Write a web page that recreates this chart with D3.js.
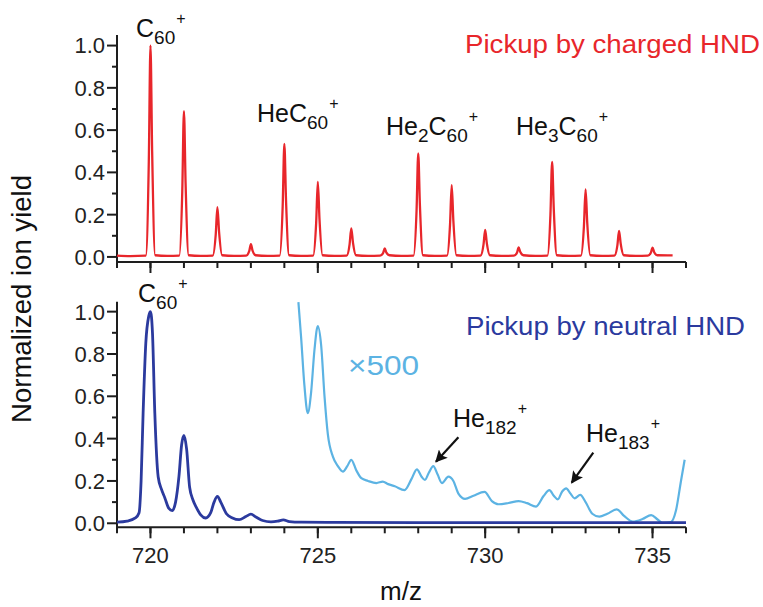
<!DOCTYPE html>
<html>
<head>
<meta charset="utf-8">
<script src="https://cdn.jsdelivr.net/npm/d3@7"></script>
<style>
  html, body { margin: 0; padding: 0; background: #fff; }
  svg { display: block; }
  text { font-family: "Liberation Sans", Arial, Helvetica, sans-serif; }
</style>
</head>
<body>
<script>
// ---------------- DATA ----------------
// m/z axis range and ticks
const mzDomain = [719, 736];
const mzMajorTicks = [720, 725, 730, 735];
const mzMinorTicks = [719, 720, 721, 722, 723, 724, 725, 726, 727, 728, 729, 730, 731, 732, 733, 734, 735, 736];
const yieldMajorTicks = [0.0, 0.2, 0.4, 0.6, 0.8, 1.0];
const yieldMinorTicks = [0.1, 0.3, 0.5, 0.7, 0.9];

// Top panel: pickup by charged HND (m/z, normalized yield)
const chargedSpectrum = [
  [719.0, 0.006], [719.4, 0.004], [719.86, 0.006], [719.95, 0.45], [720.0, 1.0], [720.05, 0.5], [720.14, 0.008],
  [720.5, 0.005], [720.86, 0.006], [720.95, 0.31], [721.0, 0.69], [721.05, 0.345], [721.14, 0.008],
  [721.5, 0.005], [721.86, 0.006], [721.95, 0.106], [722.0, 0.235], [722.05, 0.118], [722.14, 0.008],
  [722.5, 0.005], [722.86, 0.006], [722.95, 0.027], [723.0, 0.06], [723.05, 0.03], [723.14, 0.008],
  [723.5, 0.005], [723.86, 0.006], [723.95, 0.24], [724.0, 0.535], [724.05, 0.268], [724.14, 0.008],
  [724.5, 0.005], [724.86, 0.006], [724.95, 0.16], [725.0, 0.355], [725.05, 0.178], [725.14, 0.008],
  [725.5, 0.005], [725.86, 0.006], [725.95, 0.061], [726.0, 0.135], [726.05, 0.068], [726.14, 0.008],
  [726.5, 0.005], [726.86, 0.006], [726.95, 0.018], [727.0, 0.04], [727.05, 0.02], [727.14, 0.008],
  [727.5, 0.005], [727.86, 0.006], [727.95, 0.22], [728.0, 0.49], [728.05, 0.245], [728.14, 0.008],
  [728.5, 0.005], [728.86, 0.006], [728.95, 0.153], [729.0, 0.34], [729.05, 0.17], [729.14, 0.008],
  [729.5, 0.005], [729.86, 0.006], [729.95, 0.058], [730.0, 0.128], [730.05, 0.064], [730.14, 0.008],
  [730.5, 0.005], [730.86, 0.006], [730.95, 0.02], [731.0, 0.045], [731.05, 0.023], [731.14, 0.008],
  [731.5, 0.005], [731.86, 0.006], [731.95, 0.2], [732.0, 0.45], [732.05, 0.225], [732.14, 0.008],
  [732.5, 0.005], [732.86, 0.006], [732.95, 0.144], [733.0, 0.32], [733.05, 0.16], [733.14, 0.008],
  [733.5, 0.005], [733.86, 0.006], [733.95, 0.055], [734.0, 0.123], [734.05, 0.062], [734.14, 0.008],
  [734.5, 0.005], [734.86, 0.006], [734.95, 0.02], [735.0, 0.044], [735.05, 0.022], [735.14, 0.008],
  [735.6, 0.007]
];

// Bottom panel: pickup by neutral HND (m/z, normalized yield)
const neutralSpectrum = [
  [719.0, 0.005], [719.3, 0.01], [719.55, 0.025], [719.66, 0.05], [719.72, 0.2], [719.78, 0.52],
  [719.86, 0.85], [719.95, 0.98], [720.0, 1.0], [720.06, 0.9], [720.13, 0.52], [720.23, 0.22],
  [720.33, 0.16], [720.43, 0.12], [720.55, 0.07], [720.65, 0.06], [720.75, 0.1], [720.85, 0.22],
  [720.93, 0.37], [721.0, 0.415], [721.08, 0.35], [721.17, 0.17], [721.27, 0.11], [721.37, 0.075],
  [721.5, 0.04], [721.65, 0.025], [721.8, 0.05], [721.9, 0.1], [722.0, 0.127], [722.1, 0.1],
  [722.27, 0.045], [722.45, 0.025], [722.65, 0.017], [722.85, 0.032], [723.0, 0.043], [723.15, 0.03],
  [723.35, 0.013], [723.6, 0.007], [723.8, 0.01], [723.97, 0.016], [724.15, 0.008], [724.5, 0.005],
  [725.5, 0.004], [728.0, 0.003], [736.0, 0.003]
];

// Bottom panel: same spectrum magnified x500
const neutralX500Spectrum = [
  [724.42, 1.045], [724.5, 0.88], [724.6, 0.65], [724.7, 0.52], [724.8, 0.62], [724.9, 0.82],
  [725.0, 0.932], [725.1, 0.84], [725.2, 0.6], [725.3, 0.42], [725.45, 0.315], [725.6, 0.27],
  [725.75, 0.244], [725.88, 0.27], [726.0, 0.3], [726.15, 0.25], [726.3, 0.213], [726.5, 0.2],
  [726.75, 0.19], [726.94, 0.197], [727.1, 0.185], [727.3, 0.175], [727.59, 0.157], [727.8, 0.21],
  [727.96, 0.255], [728.1, 0.22], [728.2, 0.205], [728.32, 0.24], [728.45, 0.27], [728.58, 0.23],
  [728.71, 0.19], [728.9, 0.22], [729.05, 0.2], [729.2, 0.14], [729.4, 0.115], [729.65, 0.13],
  [729.98, 0.148], [730.2, 0.105], [730.4, 0.09], [730.7, 0.096], [731.0, 0.105], [731.25, 0.095],
  [731.52, 0.079], [731.75, 0.13], [731.92, 0.157], [732.05, 0.13], [732.17, 0.113], [732.3, 0.15],
  [732.42, 0.165], [732.55, 0.14], [732.67, 0.118], [732.84, 0.134], [733.0, 0.1], [733.2, 0.045],
  [733.41, 0.031], [733.65, 0.045], [733.93, 0.066], [734.15, 0.035], [734.41, 0.008], [734.7, 0.02],
  [734.96, 0.039], [735.15, 0.018], [735.3, 0.002], [735.55, 0.006], [735.7, 0.06], [735.85, 0.2],
  [735.96, 0.3]
];

// Annotation arrows in data coordinates: [tail, tip]
const arrowsBottom = [
  [[729.2, 0.406], [728.53, 0.291]],
  [[733.23, 0.334], [732.585, 0.192]]
];

// Peak labels: parts of chemical formula (n = normal, sub, sup)
const topLabels = [
  { x: 136, y: 37, parts: [["C", "n"], ["60", "sub"], ["+", "sup"]] },
  { x: 257, y: 122, parts: [["HeC", "n"], ["60", "sub"], ["+", "sup"]] },
  { x: 386, y: 135, parts: [["He", "n"], ["2", "sub"], ["C", "n"], ["60", "sub"], ["+", "sup"]] },
  { x: 516, y: 135, parts: [["He", "n"], ["3", "sub"], ["C", "n"], ["60", "sub"], ["+", "sup"]] }
];
const bottomLabels = [
  { x: 138, y: 302, parts: [["C", "n"], ["60", "sub"], ["+", "sup"]] },
  { x: 453, y: 427, parts: [["He", "n"], ["182", "sub"], ["+", "sup"]] },
  { x: 586, y: 442, parts: [["He", "n"], ["183", "sub"], ["+", "sup"]] }
];

// ---------------- STYLE ----------------
const W = 763, H = 607;
const RED = "#e8262b", NAVY = "#2b3a9e", SKY = "#5cb3e3", AXIS = "#1e1e1e";

const svg = d3.select("body").append("svg").attr("width", W).attr("height", H);

svg.append("defs").append("marker")
  .attr("id", "arrowhead").attr("viewBox", "0 0 10 10")
  .attr("refX", 9).attr("refY", 5)
  .attr("markerWidth", 6).attr("markerHeight", 5.5)
  .attr("markerUnits", "strokeWidth")
  .attr("orient", "auto")
  .append("path").attr("d", "M0,0 L10,5 L0,10 L2,5 Z").attr("fill", "#111");

const x = d3.scaleLinear().domain(mzDomain).range([117, 686]);
const yTop = d3.scaleLinear().domain([-0.024, 1.05]).range([262, 35]);
const yBot = d3.scaleLinear().domain([-0.019, 1.047]).range([527.3, 301.7]);

function drawPanel(yScale, showXLabels) {
  const [y0] = yScale.range();
  const g = svg.append("g");
  // y axis
  const yAxis = g.append("g").attr("transform", `translate(${x.range()[0]},0)`);
  yAxis.append("line").attr("x1", 0).attr("x2", 0)
    .attr("y1", yScale.range()[1]).attr("y2", y0 + 5)
    .attr("stroke", AXIS).attr("stroke-width", 2);
  yAxis.selectAll(".ymaj").data(yieldMajorTicks).join("line")
    .attr("x1", -10).attr("x2", 0)
    .attr("y1", d => yScale(d)).attr("y2", d => yScale(d))
    .attr("stroke", AXIS).attr("stroke-width", 2);
  yAxis.selectAll(".ymin").data(yieldMinorTicks).join("line").attr("class", "ymin")
    .attr("x1", -5).attr("x2", 0)
    .attr("y1", d => yScale(d)).attr("y2", d => yScale(d))
    .attr("stroke", AXIS).attr("stroke-width", 2);
  yAxis.selectAll(".ylab").data(yieldMajorTicks).join("text").attr("class", "ylab")
    .attr("x", -12).attr("y", d => yScale(d)).attr("dy", "0.36em")
    .attr("text-anchor", "end").attr("font-size", 22).attr("fill", "#222")
    .text(d => d.toFixed(1));
  // x axis
  const xAxis = g.append("g").attr("transform", `translate(0,${y0})`);
  xAxis.append("line").attr("x1", x.range()[0]).attr("x2", x.range()[1])
    .attr("y1", 0).attr("y2", 0).attr("stroke", AXIS).attr("stroke-width", 2);
  xAxis.selectAll(".xmin").data(mzMinorTicks).join("line").attr("class", "xmin")
    .attr("x1", d => x(d)).attr("x2", d => x(d))
    .attr("y1", 0).attr("y2", 6).attr("stroke", AXIS).attr("stroke-width", 2);
  xAxis.selectAll(".xmaj").data(mzMajorTicks).join("line").attr("class", "xmaj")
    .attr("x1", d => x(d)).attr("x2", d => x(d))
    .attr("y1", 0).attr("y2", 11).attr("stroke", AXIS).attr("stroke-width", 2);
  if (showXLabels) {
    xAxis.selectAll(".xlab").data(mzMajorTicks).join("text").attr("class", "xlab")
      .attr("x", d => x(d)).attr("y", 36)
      .attr("text-anchor", "middle").attr("font-size", 22).attr("fill", "#222")
      .text(d => d);
  }
}

drawPanel(yTop, false);
drawPanel(yBot, true);

function drawLine(data, yScale, color, width) {
  svg.append("path").datum(data)
    .attr("fill", "none").attr("stroke", color).attr("stroke-width", width)
    .attr("stroke-linejoin", "round")
    .attr("d", d3.line().x(d => x(d[0])).y(d => yScale(d[1])).curve(d3.curveMonotoneX));
}
drawLine(chargedSpectrum, yTop, RED, 2.3);
drawLine(neutralX500Spectrum, yBot, SKY, 2.2);
drawLine(neutralSpectrum, yBot, NAVY, 2.8);

// arrows
svg.selectAll(".arrow").data(arrowsBottom).join("line").attr("class", "arrow")
  .attr("x1", d => x(d[0][0])).attr("y1", d => yBot(d[0][1]))
  .attr("x2", d => x(d[1][0])).attr("y2", d => yBot(d[1][1]))
  .attr("stroke", "#111").attr("stroke-width", 2.2)
  .attr("marker-end", "url(#arrowhead)");

// chemical labels
function chemLabel(lbl) {
  const t = svg.append("text").attr("x", lbl.x).attr("y", lbl.y).attr("fill", "#111");
  let cur = 0;
  const target = { n: 0, sub: 6.5, sup: -13 };
  const fs = { n: 25, sub: 19, sup: 16 };
  lbl.parts.forEach(([txt, kind]) => {
    const dy = target[kind] - cur;
    cur = target[kind];
    t.append("tspan").attr("dy", dy).attr("dx", kind === "sup" ? 1 : 0)
      .attr("font-size", fs[kind]).text(txt);
  });
}
topLabels.forEach(chemLabel);
bottomLabels.forEach(chemLabel);

// legend-like texts
svg.append("text").attr("x", 465).attr("y", 53).attr("font-size", 26)
  .attr("textLength", 295).attr("lengthAdjust", "spacingAndGlyphs")
  .attr("fill", RED).text("Pickup by charged HND");
svg.append("text").attr("x", 466).attr("y", 335).attr("font-size", 26)
  .attr("textLength", 279).attr("lengthAdjust", "spacingAndGlyphs")
  .attr("fill", NAVY).text("Pickup by neutral HND");
svg.append("text").attr("x", 348).attr("y", 375).attr("font-size", 28)
  .attr("textLength", 71).attr("lengthAdjust", "spacingAndGlyphs")
  .attr("fill", SKY).text("×500");

// axis titles
svg.append("text").attr("transform", "translate(31,299) rotate(-90)")
  .attr("text-anchor", "middle").attr("font-size", 27)
  .attr("textLength", 248).attr("lengthAdjust", "spacingAndGlyphs")
  .attr("fill", "#111").text("Normalized ion yield");
svg.append("text").attr("x", 401).attr("y", 600).attr("text-anchor", "middle")
  .attr("font-size", 26).attr("fill", "#111").text("m/z");
</script>
</body>
</html>
